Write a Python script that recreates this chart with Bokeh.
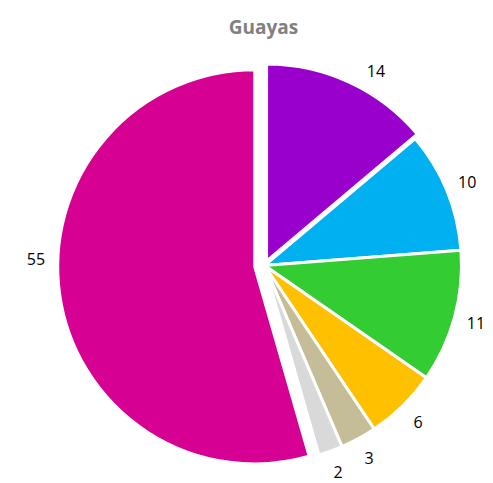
import math
from bokeh.plotting import figure
from bokeh.models import Range1d, ColumnDataSource
from bokeh.core.properties import value
from bokeh.embed import file_html
from bokeh.resources import INLINE

# ---- data ----
title_text = "Guayas"
labels = ["14", "10", "11", "6", "3", "2", "55"]
values = [14, 10, 11, 6, 3, 2, 55]
colors = ["#9900CC", "#00B0F0", "#33CC33", "#FFC000", "#C4BD97", "#D9D9D9", "#D60093"]

# ---- layout / style ----
explode = [0.025, 0, 0, 0, 0, 0, 0.05]
label_turn_deg = [5, 0, 0, 0, 0, 0, 10]   # best-fit style nudge (clockwise)
W, H = 493, 483
cx, cy, R = 264.0, 218.0, 197.0
label_r = 219.0

p = figure(width=W, height=H, output_backend="svg", toolbar_location=None,
           x_range=Range1d(0, W), y_range=Range1d(0, H),
           x_axis_location=None, y_axis_location=None, min_border=0,
           background_fill_color="white", border_fill_color="white")
p.outline_line_color = None
p.xgrid.visible = False
p.ygrid.visible = False

total = float(sum(values))
xs, ys, starts, ends, lx, ly = [], [], [], [], [], []
acc = 0.0
for v, e, turn in zip(values, explode, label_turn_deg):
    t1 = acc / total * 2 * math.pi          # clockwise from top
    t2 = (acc + v) / total * 2 * math.pi
    acc += v
    mid = (t1 + t2) / 2
    dx, dy = math.sin(mid), math.cos(mid)
    ox, oy = cx + e * R * dx, cy + e * R * dy
    xs.append(ox)
    ys.append(oy)
    starts.append(math.pi / 2 - t2)
    ends.append(math.pi / 2 - t1)
    la = mid + math.radians(turn)
    lx.append(ox + label_r * math.sin(la))
    ly.append(oy + label_r * math.cos(la))

src = ColumnDataSource(dict(x=xs, y=ys, start=starts, end=ends, color=colors,
                            lx=lx, ly=ly, label=labels))
p.wedge(x="x", y="y", radius=R, start_angle="start", end_angle="end",
        fill_color="color", line_color="white", line_width=3, source=src)

p.text(x="lx", y="ly", text="label", source=src, text_align="center",
       text_baseline="middle", text_font=value("Open Sans"),
       text_font_size="16px", text_color="#000000")

p.text(x=[263], y=[H - 26], text=[title_text], text_align="center",
       text_baseline="alphabetic", text_font=value("Open Sans"),
       text_font_size="19px", text_font_style="bold", text_color="#808080")

open("out.html", "w").write(file_html(p, INLINE))
